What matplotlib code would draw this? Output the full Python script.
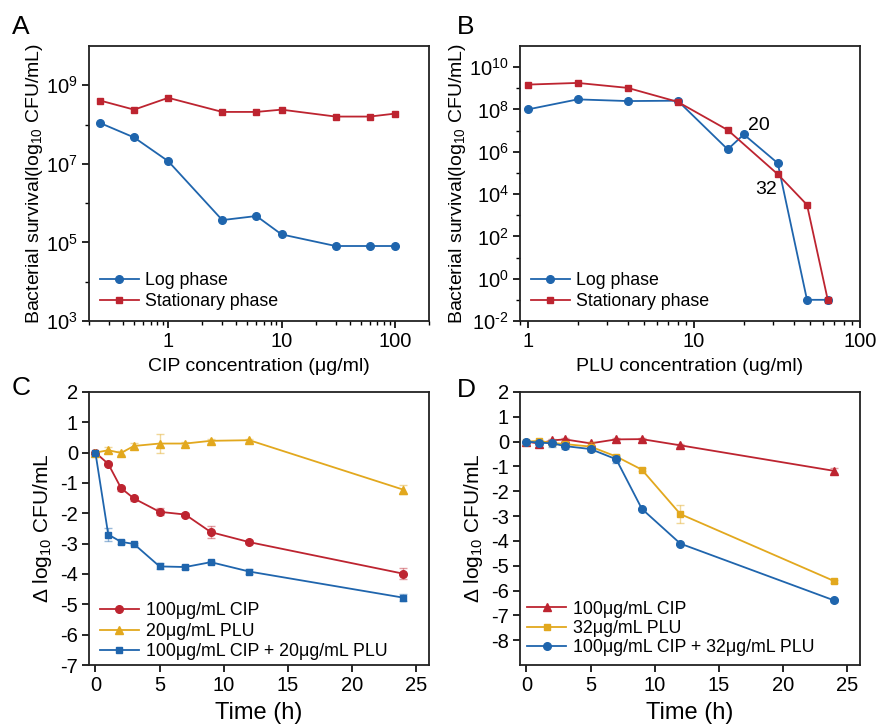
import matplotlib
matplotlib.use("Agg")
import matplotlib.pyplot as plt
import numpy as np
from matplotlib.ticker import LogLocator, FixedLocator, NullFormatter, FixedFormatter
from matplotlib.lines import Line2D

plt.rcParams['font.family'] = ['Liberation Sans', 'DejaVu Sans']
plt.rcParams['mathtext.fontset'] = 'custom'
plt.rcParams['mathtext.rm'] = 'Liberation Sans'
plt.rcParams['mathtext.it'] = 'Liberation Sans:italic'
plt.rcParams['mathtext.bf'] = 'Liberation Sans:bold'
plt.rcParams['axes.unicode_minus'] = False

BLUE = '#1f65ad'
RED = '#bd2430'
YEL = '#e2a81e'

# Panel A data
a_conc = [0.25, 0.5, 1, 3, 6, 10, 30, 60, 100]
a_log = [1.1e8, 4.7e7, 1.17e7, 3.7e5, 4.7e5, 1.6e5, 8.1e4, 8.1e4, 8.1e4]
a_stat = [4.1e8, 2.4e8, 4.8e8, 2.1e8, 2.1e8, 2.4e8, 1.6e8, 1.6e8, 1.9e8]

# Panel B data
b_conc_log = [1, 2, 4, 8, 16, 20, 32, 48, 64]
b_log = [1.0e8, 3.0e8, 2.5e8, 2.6e8, 1.3e6, 6.6e6, 2.9e5, 0.1, 0.1]
b_conc_stat = [1, 2, 4, 8, 16, 32, 48, 64]
b_stat = [1.5e9, 1.8e9, 1.05e9, 2.3e8, 1.07e7, 8.7e4, 3.1e3, 0.1]

# Panel C data
time = [0, 1, 2, 3, 5, 7, 9, 12, 24]
c_cip = [0, -0.37, -1.17, -1.51, -1.95, -2.04, -2.62, -2.95, -3.99]
c_cip_err = [0, 0.05, 0.08, 0.08, 0.12, 0.05, 0.2, 0.06, 0.18]
c_plu = [0, 0.08, -0.01, 0.22, 0.30, 0.30, 0.39, 0.41, -1.22]
c_plu_err = [0, 0.1, 0.08, 0.1, 0.3, 0.06, 0.06, 0.05, 0.15]
c_combo = [0, -2.70, -2.94, -3.01, -3.75, -3.77, -3.61, -3.92, -4.78]
c_combo_err = [0, 0.2, 0.06, 0.04, 0.1, 0.08, 0.05, 0.08, 0.12]

# Panel D data
d_cip = [0, -0.08, 0.05, 0.09, -0.07, 0.09, 0.10, -0.15, -1.18]
d_cip_err = [0, 0.06, 0.05, 0.05, 0.05, 0.04, 0.04, 0.05, 0.1]
d_plu = [0, 0.03, -0.05, -0.10, -0.20, -0.60, -1.13, -2.92, -5.62]
d_plu_err = [0, 0.05, 0.1, 0.08, 0.2, 0.08, 0.06, 0.35, 0.06]
d_combo = [0, -0.04, -0.07, -0.18, -0.30, -0.71, -2.71, -4.11, -6.40]
d_combo_err = [0, 0.05, 0.15, 0.12, 0.08, 0.15, 0.05, 0.05, 0.06]

TICK_FS = 14.5
LEG_FS = 12.8
fig = plt.figure(figsize=(8.76, 7.26), dpi=100)

def style(ax):
    for s in ax.spines.values():
        s.set_linewidth(1.3)
        s.set_color('#222222')
    ax.tick_params(which='major', direction='out', length=5, width=1.2, labelsize=TICK_FS, pad=3)
    ax.tick_params(which='minor', direction='out', length=3, width=1.0)

axA = fig.add_axes([0.1016, 0.5579, 0.3881, 0.3787])
axB = fig.add_axes([0.5936, 0.5579, 0.3881, 0.3787])
axC = fig.add_axes([0.1016, 0.0840, 0.3881, 0.3761])
axD = fig.add_axes([0.5936, 0.0840, 0.3881, 0.3761])

lw = 1.3
ms = 5.5

def sup(e):
    return '$10^{%s}$' % (('\\text{-}%d' % (-e)) if e < 0 else str(e))

# A
axA.plot(a_conc, a_log, '-o', color=BLUE, lw=lw, ms=ms, label='Log phase')
axA.plot(a_conc, a_stat, '-s', color=RED, lw=lw, ms=ms - 0.5, label='Stationary phase')
axA.set_xscale('log'); axA.set_yscale('log')
axA.set_xlim(0.2, 200); axA.set_ylim(1e3, 1e10)
axA.yaxis.set_major_locator(FixedLocator([1e3, 1e5, 1e7, 1e9]))
axA.yaxis.set_major_formatter(FixedFormatter([sup(e) for e in [3, 5, 7, 9]]))
axA.yaxis.set_minor_locator(FixedLocator([1e4, 1e6, 1e8]))
axA.yaxis.set_minor_formatter(NullFormatter())
axA.xaxis.set_major_locator(FixedLocator([1, 10, 100]))
axA.xaxis.set_major_formatter(FixedFormatter(['1', '10', '100']))
axA.xaxis.set_minor_locator(LogLocator(base=10, subs=np.arange(2, 10)))
axA.xaxis.set_minor_formatter(NullFormatter())
axA.set_xlabel('CIP concentration (μg/ml)', fontsize=14, labelpad=5)
axA.set_ylabel('Bacterial survival(log$_{10}$ CFU/mL)', fontsize=14, labelpad=1)
style(axA)
axA.legend(loc='lower left', frameon=False, fontsize=LEG_FS, handlelength=2.2,
           handletextpad=0.35, labelspacing=0.22, borderaxespad=0.2, bbox_to_anchor=(0.0, 0.0))

# B
axB.plot(b_conc_log, b_log, '-o', color=BLUE, lw=lw, ms=ms, label='Log phase')
axB.plot(b_conc_stat, b_stat, '-s', color=RED, lw=lw, ms=ms - 0.5, label='Stationary phase')
axB.set_xscale('log'); axB.set_yscale('log')
axB.set_xlim(0.9, 100); axB.set_ylim(1e-2, 1e11)
yb_exp = [-2, 0, 2, 4, 6, 8, 10]
axB.yaxis.set_major_locator(FixedLocator([10.0 ** e for e in yb_exp]))
axB.yaxis.set_major_formatter(FixedFormatter([sup(e) for e in yb_exp]))
axB.yaxis.set_minor_locator(FixedLocator([10.0 ** e for e in [-1, 1, 3, 5, 7, 9]]))
axB.yaxis.set_minor_formatter(NullFormatter())
axB.xaxis.set_major_locator(FixedLocator([1, 10, 100]))
axB.xaxis.set_major_formatter(FixedFormatter(['1', '10', '100']))
axB.xaxis.set_minor_locator(LogLocator(base=10, subs=np.arange(2, 10)))
axB.xaxis.set_minor_formatter(NullFormatter())
axB.set_xlabel('PLU concentration (ug/ml)', fontsize=14, labelpad=5)
axB.set_ylabel('Bacterial survival(log$_{10}$ CFU/mL)', fontsize=14, labelpad=1)
style(axB)
axB.legend(loc='lower left', frameon=False, fontsize=LEG_FS, handlelength=2.2,
           handletextpad=0.35, labelspacing=0.22, borderaxespad=0.2, bbox_to_anchor=(0.0, 0.0))
axB.annotate('20', xy=(b_conc_log[5], b_log[5]), xytext=(3, 3), textcoords='offset points',
             fontsize=14)
axB.annotate('32', xy=(b_conc_stat[5], b_stat[5]), xytext=(-16, -14), textcoords='offset points',
             fontsize=14)

def eb(ax, x, y, e, color, marker, msz):
    ax.errorbar(x, y, yerr=e, fmt='none', ecolor=color, elinewidth=1.0, capsize=3,
                capthick=1.0, alpha=0.45)
    ax.plot(x, y, '-' + marker, color=color, lw=lw, ms=msz)

def handle(color, marker, msz):
    return Line2D([], [], color=color, marker=marker, lw=lw, ms=msz)

# C
eb(axC, time, c_cip, c_cip_err, RED, 'o', ms)
eb(axC, time, c_plu, c_plu_err, YEL, '^', ms)
eb(axC, time, c_combo, c_combo_err, BLUE, 's', ms - 0.5)
axC.set_xlim(-0.5, 26); axC.set_ylim(-7, 2)
axC.set_xticks([0, 5, 10, 15, 20, 25])
axC.set_yticks(range(-7, 3))
axC.set_xlabel('Time (h)', fontsize=17, labelpad=5)
axC.set_ylabel('Δ log$_{10}$ CFU/mL', fontsize=15, labelpad=4)
style(axC)
axC.legend([handle(RED, 'o', ms), handle(YEL, '^', ms), handle(BLUE, 's', ms - 0.5)],
           ['100μg/mL CIP', '20μg/mL PLU', '100μg/mL CIP + 20μg/mL PLU'],
           loc='lower left', frameon=False, fontsize=LEG_FS, handlelength=2.2,
           handletextpad=0.4, labelspacing=0.2, borderaxespad=0.2, bbox_to_anchor=(0.0, -0.022))

# D
eb(axD, time, d_cip, d_cip_err, RED, '^', ms)
eb(axD, time, d_plu, d_plu_err, YEL, 's', ms - 0.5)
eb(axD, time, d_combo, d_combo_err, BLUE, 'o', ms)
axD.set_xlim(-0.5, 26); axD.set_ylim(-9, 2)
axD.set_xticks([0, 5, 10, 15, 20, 25])
axD.set_yticks(range(-8, 3))
axD.set_xlabel('Time (h)', fontsize=17, labelpad=5)
axD.set_ylabel('Δ log$_{10}$ CFU/mL', fontsize=15, labelpad=4)
style(axD)
axD.legend([handle(RED, '^', ms), handle(YEL, 's', ms - 0.5), handle(BLUE, 'o', ms)],
           ['100μg/mL CIP', '32μg/mL PLU', '100μg/mL CIP + 32μg/mL PLU'],
           loc='lower left', frameon=False, fontsize=LEG_FS, handlelength=2.2,
           handletextpad=0.35, labelspacing=0.12, borderaxespad=0.2, bbox_to_anchor=(-0.01, -0.006))

for lab, x, y in [('A', 12, 27), ('B', 457, 27), ('C', 12, 388), ('D', 457, 390)]:
    fig.text(x / 876, 1 - y / 726, lab, fontsize=19, ha='left', va='center')

fig.savefig('out.png', dpi=100)
